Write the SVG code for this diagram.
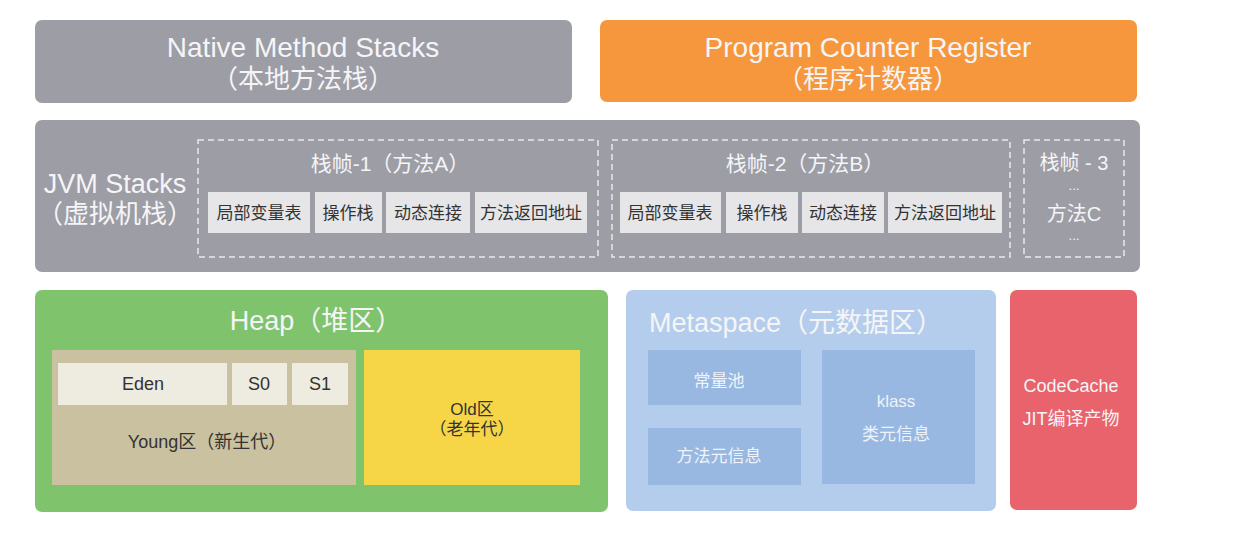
<svg xmlns="http://www.w3.org/2000/svg" width="1256" height="541" viewBox="0 0 1256 541">
<style>
text{font-family:"Liberation Sans","Noto Sans CJK SC",sans-serif;text-anchor:middle}
.w{fill:#f5f5f7}
.wt{fill:#eef3fa}
.d{fill:#333333}
.gray{fill:#9d9da6}
.cell{fill:#e6e6e9}
.dash{fill:none;stroke:#e8e8ee;stroke-width:1.5;stroke-dasharray:6 4}
</style>
<rect width="1256" height="541" fill="#ffffff"/>
<g id="native">
<rect x="35" y="20" width="537" height="83" rx="7" class="gray"/>
<text x="303" y="57" font-size="28" class="w">Native Method Stacks</text>
<text x="303" y="88" font-size="26" class="w">（本地方法栈）</text>
</g>
<g id="pcr">
<rect x="600" y="20" width="537" height="82" rx="7" fill="#f7973d"/>
<text x="868" y="57" font-size="28" class="w">Program Counter Register</text>
<text x="868" y="88" font-size="26" class="w">（程序计数器）</text>
</g>
<g id="jvmstacks">
<rect x="35" y="120" width="1105" height="152" rx="7" class="gray"/>
<text x="115" y="193" font-size="27" class="w">JVM Stacks</text>
<text x="115" y="223" font-size="26" class="w">（虚拟机栈）</text>
</g>
<g id="frame1">
<rect x="198" y="140" width="400" height="117" class="dash"/>
<text x="390" y="171" font-size="21" class="w">栈帧-1（方法A）</text>
<rect x="208" y="192" width="102" height="41" class="cell"/>
<text x="259" y="219" font-size="17" class="d">局部变量表</text>
<rect x="315" y="192" width="67" height="41" class="cell"/>
<text x="348" y="219" font-size="17" class="d">操作栈</text>
<rect x="386" y="192" width="84" height="41" class="cell"/>
<text x="428" y="219" font-size="17" class="d">动态连接</text>
<rect x="475" y="192" width="112" height="41" class="cell"/>
<text x="531" y="219" font-size="17" class="d">方法返回地址</text>
</g>
<g id="frame2">
<rect x="612" y="140" width="398" height="117" class="dash"/>
<text x="805" y="171" font-size="21" class="w">栈帧-2（方法B）</text>
<rect x="620" y="192" width="101" height="41" class="cell"/>
<text x="670" y="219" font-size="17" class="d">局部变量表</text>
<rect x="726" y="192" width="72" height="41" class="cell"/>
<text x="762" y="219" font-size="17" class="d">操作栈</text>
<rect x="802" y="192" width="82" height="41" class="cell"/>
<text x="843" y="219" font-size="17" class="d">动态连接</text>
<rect x="888" y="192" width="114" height="41" class="cell"/>
<text x="945" y="219" font-size="17" class="d">方法返回地址</text>
</g>
<g id="frame3">
<rect x="1024" y="140" width="100" height="117" class="dash"/>
<text x="1074" y="170" font-size="20" class="w">栈帧 - 3</text>
<text x="1074" y="190" font-size="13" class="w">...</text>
<text x="1074" y="221" font-size="20" class="w">方法C</text>
<text x="1074" y="240" font-size="13" class="w">...</text>
</g>
<g id="heap">
<rect x="35" y="290" width="573" height="222" rx="7" fill="#7fc46c"/>
<text x="316" y="330" font-size="27" class="w">Heap（堆区）</text>
</g>
<g id="young">
<rect x="52" y="350" width="304" height="135" fill="#c9c1a0"/>
<text x="207" y="448" font-size="18" class="d">Young区（新生代）</text>
</g>
<g id="eden">
<rect x="58" y="363" width="169" height="42" fill="#eeebe1"/>
<text x="143" y="390" font-size="18" class="d">Eden</text>
</g>
<g id="s0">
<rect x="232" y="363" width="55" height="42" fill="#eeebe1"/>
<text x="259" y="390" font-size="18" class="d">S0</text>
</g>
<g id="s1">
<rect x="292" y="363" width="56" height="42" fill="#eeebe1"/>
<text x="320" y="390" font-size="18" class="d">S1</text>
</g>
<g id="old">
<rect x="364" y="350" width="216" height="135" fill="#f6d547"/>
<text x="472" y="415" font-size="17" class="d">Old区</text>
<text x="472" y="435" font-size="17" class="d">（老年代）</text>
</g>
<g id="metaspace">
<rect x="626" y="290" width="370" height="221" rx="7" fill="#b5cdec"/>
<text x="796" y="332" font-size="27" class="w">Metaspace（元数据区）</text>
</g>
<g id="constpool">
<rect x="648" y="350" width="153" height="55" fill="#98b8e2"/>
<text x="719" y="387" font-size="17" class="wt">常量池</text>
</g>
<g id="methodmeta">
<rect x="648" y="428" width="153" height="57" fill="#98b8e2"/>
<text x="719" y="462" font-size="17" class="wt">方法元信息</text>
</g>
<g id="klass">
<rect x="822" y="350" width="153" height="134" fill="#98b8e2"/>
<text x="896" y="407" font-size="17" class="wt">klass</text>
<text x="896" y="440" font-size="17" class="wt">类元信息</text>
</g>
<g id="codecache">
<rect x="1010" y="290" width="127" height="220" rx="7" fill="#e8636b"/>
<text x="1071" y="392" font-size="18" class="w">CodeCache</text>
<text x="1071" y="425" font-size="18" class="w">JIT编译产物</text>
</g>
<g id="connectors"></g>
</svg>
